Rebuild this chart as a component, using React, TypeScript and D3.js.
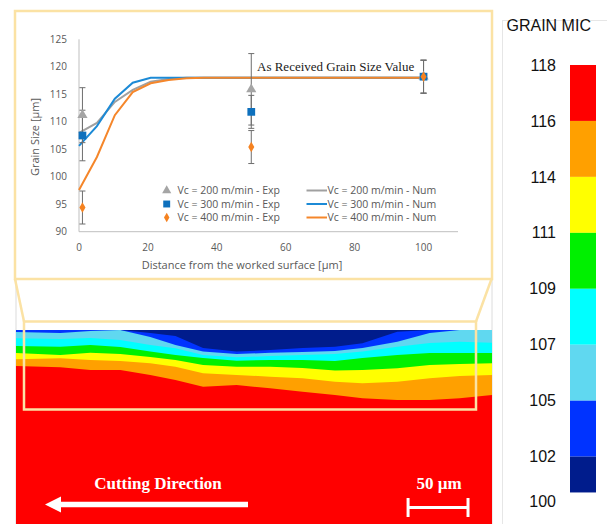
import React, { useEffect, useRef } from 'react';
import * as d3 from 'd3';

// numerical curves (grain size vs distance)
const numDist = [0, 5.2, 10.4, 15.6, 20.8, 26, 31.2, 36.4, 41.6, 50, 60, 70, 80, 90, 100];
const num200 = [108, 109.8, 113.6, 115.8, 117.3, 117.8, 118, 118, 118, 118, 118, 118, 118, 118, 118];
const num300 = [105.6, 109.2, 114.2, 117.1, 118, 118, 118, 118, 118, 118, 118, 118, 118, 118, 118];
const num400 = [97.6, 103.6, 111.2, 115.4, 117, 117.6, 117.9, 118, 118, 118, 118, 118, 118, 118, 118];

// experimental points
const expDist = [1, 50, 100];
const exp200 = [111.2, 115.9, 118.2];
const err200 = [5, 6.5, 3];
const exp300 = [107.5, 111.8, 118.2];
const err300 = [4.6, 3, 3];
const exp400 = [94.4, 105.4, 118.2];
const err400 = [3, 3, 3];

const xTicks = [0, 20, 40, 60, 80, 100];
const yTicks = [90, 95, 100, 105, 110, 115, 120, 125];

const legendExp = ['Vc = 200 m/min - Exp', 'Vc = 300 m/min - Exp', 'Vc = 400 m/min - Exp'];
const legendNum = ['Vc = 200 m/min - Num', 'Vc = 300 m/min - Num', 'Vc = 400 m/min - Num'];

// contour map: lower boundary depth [µm] of each band along the surface [µm]
const mapPos = [0, 37, 62, 87, 112, 133, 156, 184, 212, 239, 266, 289, 318, 345, 370, 397];
const depthOrange = [30, 31.1, 33.3, 33.3, 37.5, 41.7, 47.2, 45.8, 48.6, 51.4, 54.2, 56.9, 58.3, 58.3, 56.9, 54.2];
const depthYellow = [24.4, 23.6, 25, 25.8, 27.8, 30.6, 36.1, 37.5, 38.9, 40.3, 43.1, 44.4, 43.1, 40.3, 38.3, 37.5];
const depthGreen = [19.2, 20.8, 18.9, 20, 22.5, 25, 29.2, 30.6, 30.6, 31.7, 33.8, 33.3, 31.9, 29.2, 28.3, 27.8];
const depthCyan = [13.3, 13.9, 12.5, 14.2, 18, 20.8, 23.3, 25.6, 25, 25, 25.8, 23.3, 20.8, 19.2, 19.2, 19.2];
const depthLight = [6.9, 7.5, 6.7, 8.3, 12.5, 15.3, 20.8, 22.8, 21.7, 20.8, 20, 18, 13.9, 10.8, 9.7, 10.6];
const depthBlue = [1.7, 2.5, 0.8, 0, 5.8, 12.5, 18, 20, 19, 18.3, 17.5, 15, 9.7, 2.5, 0, 0];
const depthNavy = [0, 0, 0, 0, 2.5, 5, 15, 18, 16.7, 15, 14, 11, 1.4, 0, 0, 0];

const barLabels = ['118', '116', '114', '111', '109', '107', '105', '102', '100'];
const barColors = ['#ff0000', '#ffa000', '#ffff00', '#00f000', '#00ffff', '#60d8f0', '#0033ff', '#001c8c'];

const App = () => {
  const ref = useRef(null);

  useEffect(() => {
    const svg = d3.select(ref.current);
    svg.selectAll('*').remove();
    const tan = '#fbe2a4';
    const txt = '#595959';
    const sans = "'Open Sans', sans-serif";

    // ---- contour map ----
    const mx = d3.scaleLinear().domain([0, 397]).range([16, 492]);
    const my = d3.scaleLinear().domain([0, 162]).range([330, 524.4]);

    svg.append('rect').attr('x', 16).attr('y', 270).attr('width', 476).attr('height', 270)
      .attr('fill', 'white').attr('stroke', '#dcdcdc').attr('stroke-width', 1);
    svg.append('rect').attr('x', mx(0)).attr('y', my(0)).attr('width', mx(397) - mx(0))
      .attr('height', my(162) - my(0)).attr('fill', barColors[0]);

    const layers = [
      [depthOrange, barColors[1]], [depthYellow, barColors[2]], [depthGreen, barColors[3]],
      [depthCyan, barColors[4]], [depthLight, barColors[5]], [depthBlue, barColors[6]],
      [depthNavy, barColors[7]],
    ];
    layers.forEach(([depth, color]) => {
      const area = d3.area()
        .x((d, i) => mx(mapPos[i]))
        .y0(my(0))
        .y1(d => my(d));
      svg.append('path').datum(depth).attr('d', area).attr('fill', color);
    });

    // arrow + scale bar
    svg.append('line').attr('x1', 56).attr('x2', 248).attr('y1', 504.5).attr('y2', 504.5)
      .attr('stroke', 'white').attr('stroke-width', 5.5);
    svg.append('path').attr('d', 'M45,504.5 L61,496.5 L61,512.5 Z').attr('fill', 'white');
    svg.append('text').attr('x', 158).attr('y', 488.5).attr('text-anchor', 'middle')
      .style('font-family', "'Liberation Serif', serif").style('font-weight', 'bold')
      .style('font-size', '17px').attr('fill', 'white').text('Cutting Direction');

    const sb0 = mx(327);
    const sb1 = mx(327 + 50);
    svg.append('line').attr('x1', sb0).attr('x2', sb1).attr('y1', 507.5).attr('y2', 507.5)
      .attr('stroke', 'white').attr('stroke-width', 3);
    [sb0, sb1].forEach(x => {
      svg.append('line').attr('x1', x).attr('x2', x).attr('y1', 498).attr('y2', 517)
        .attr('stroke', 'white').attr('stroke-width', 3);
    });
    svg.append('text').attr('x', (sb0 + sb1) / 2 + 1).attr('y', 488.5).attr('text-anchor', 'middle')
      .style('font-family', "'Liberation Serif', serif").style('font-weight', 'bold')
      .style('font-size', '17px').attr('fill', 'white').text('50 µm');

    // zoom box + connectors
    svg.append('rect').attr('x', 24).attr('y', 321.5).attr('width', 452).attr('height', 88)
      .attr('fill', 'none').attr('stroke', tan).attr('stroke-width', 2.5);
    svg.append('line').attr('x1', 15).attr('y1', 279).attr('x2', 24).attr('y2', 321.5)
      .attr('stroke', tan).attr('stroke-width', 2.5);
    svg.append('line').attr('x1', 491.5).attr('y1', 279).attr('x2', 476).attr('y2', 321.5)
      .attr('stroke', tan).attr('stroke-width', 2.5);

    // ---- inset chart ----
    svg.append('rect').attr('x', 15).attr('y', 11).attr('width', 477).attr('height', 268)
      .attr('fill', 'white').attr('stroke', tan).attr('stroke-width', 2.5);

    const x = d3.scaleLinear().domain([0, 110]).range([79, 458]);
    const y = d3.scaleLinear().domain([90, 125]).range([231.7, 39.3]);
    const g = svg.append('g').style('font-family', sans);

    g.append('line').attr('x1', x(0)).attr('x2', x(0)).attr('y1', y(125)).attr('y2', y(90))
      .attr('stroke', '#bfbfbf');
    g.append('line').attr('x1', x(0)).attr('x2', x(110)).attr('y1', y(90)).attr('y2', y(90))
      .attr('stroke', '#bfbfbf');

    g.selectAll('.ytick').data(yTicks).enter().append('text')
      .attr('x', x(0) - 12).attr('y', d => y(d)).attr('dy', '0.35em')
      .attr('text-anchor', 'end').style('font-size', '10px').attr('fill', txt).text(d => d);
    g.selectAll('.xtick').data(xTicks).enter().append('text')
      .attr('x', d => x(d)).attr('y', y(90) + 19)
      .attr('text-anchor', 'middle').style('font-size', '10px').attr('fill', txt).text(d => d);

    g.append('text').attr('x', 242).attr('y', 268.5).attr('text-anchor', 'middle')
      .style('font-size', '11px').attr('fill', txt).text('Distance from the worked surface [µm]');
    g.append('text').attr('transform', 'translate(39,137) rotate(-90)').attr('text-anchor', 'middle')
      .style('font-size', '11px').attr('fill', txt).text('Grain Size [µm]');

    const series = [
      { num: num200, exp: exp200, err: err200, line: '#a0a0a0', mark: '#a5a5a5', sym: d3.symbolTriangle, size: 45 },
      { num: num300, exp: exp300, err: err300, line: '#1c8ad6', mark: '#0e70bd', sym: d3.symbolSquare, size: 60 },
      { num: num400, exp: exp400, err: err400, line: '#f5862a', mark: '#f58220', sym: d3.symbolDiamond, size: 32 },
    ];

    const line = d3.line().x((d, i) => x(numDist[i])).y(d => y(d));
    series.forEach(s => {
      g.append('path').datum(s.num).attr('d', line).attr('fill', 'none')
        .attr('stroke', s.line).attr('stroke-width', 2);
    });

    // error bars
    series.forEach(s => {
      s.exp.forEach((v, i) => {
        const cx = x(expDist[i]);
        g.append('line').attr('x1', cx).attr('x2', cx).attr('y1', y(v - s.err[i])).attr('y2', y(v + s.err[i]))
          .attr('stroke', '#6e6e6e').attr('stroke-width', 1);
        [v - s.err[i], v + s.err[i]].forEach(e => {
          g.append('line').attr('x1', cx - 3).attr('x2', cx + 3).attr('y1', y(e)).attr('y2', y(e))
            .attr('stroke', '#6e6e6e').attr('stroke-width', 1);
        });
      });
    });

    series.forEach(s => {
      s.exp.forEach((v, i) => {
        g.append('path').attr('d', d3.symbol().type(s.sym).size(s.size)())
          .attr('transform', `translate(${x(expDist[i])},${y(v)})`).attr('fill', s.mark);
      });
    });

    g.append('text').attr('x', 257).attr('y', 71).style('font-family', "'Liberation Serif', serif")
      .style('font-size', '13px').attr('fill', '#1a1a1a').text('As Received Grain Size Value');

    // legend
    series.forEach((s, i) => {
      const ly = 190.5 + i * 13.5;
      g.append('path').attr('d', d3.symbol().type(s.sym).size(s.size * 0.8)())
        .attr('transform', `translate(166.7,${ly})`).attr('fill', s.mark);
      g.append('text').attr('x', 177.5).attr('y', ly).attr('dy', '0.35em')
        .style('font-size', '10.5px').attr('fill', txt).text(legendExp[i]);
      g.append('line').attr('x1', 306.5).attr('x2', 327).attr('y1', ly).attr('y2', ly)
        .attr('stroke', s.line).attr('stroke-width', 2);
      g.append('text').attr('x', 327.5).attr('y', ly).attr('dy', '0.35em')
        .style('font-size', '10.5px').attr('fill', txt).text(legendNum[i]);
    });

    // ---- colour bar ----
    svg.append('rect').attr('x', 502.5).attr('y', 20.5).attr('width', 120).attr('height', 520)
      .attr('fill', 'white').attr('stroke', '#e6e6e6');
    svg.append('text').attr('x', 506.5).attr('y', 30.5)
      .style('font-family', "'Liberation Sans', Arial, sans-serif").style('font-size', '16px')
      .attr('fill', '#111').text('GRAIN MIC');

    const cy = d3.scaleLinear().domain([0, 8]).range([65, 65 + 8 * 55.95]);
    const barEnd = 7.64;
    barColors.forEach((c, i) => {
      svg.append('rect').attr('x', 570).attr('y', cy(i)).attr('width', 26)
        .attr('height', cy(Math.min(i + 1, barEnd)) - cy(i)).attr('fill', c);
    });
    barLabels.forEach((l, i) => {
      const ly = i < 8 ? cy(i) : cy(barEnd) + 9;
      svg.append('text').attr('x', 556).attr('y', ly).attr('dy', '0.35em').attr('text-anchor', 'end')
        .style('font-family', "'Liberation Sans', Arial, sans-serif").style('font-size', '16px')
        .attr('fill', '#111').text(l);
    });
  }, []);

  return (
    <svg
      ref={ref}
      width={607}
      height={524}
      style={{ position: 'absolute', left: 0, top: 0, background: 'white' }}
    />
  );
};

export default App;
